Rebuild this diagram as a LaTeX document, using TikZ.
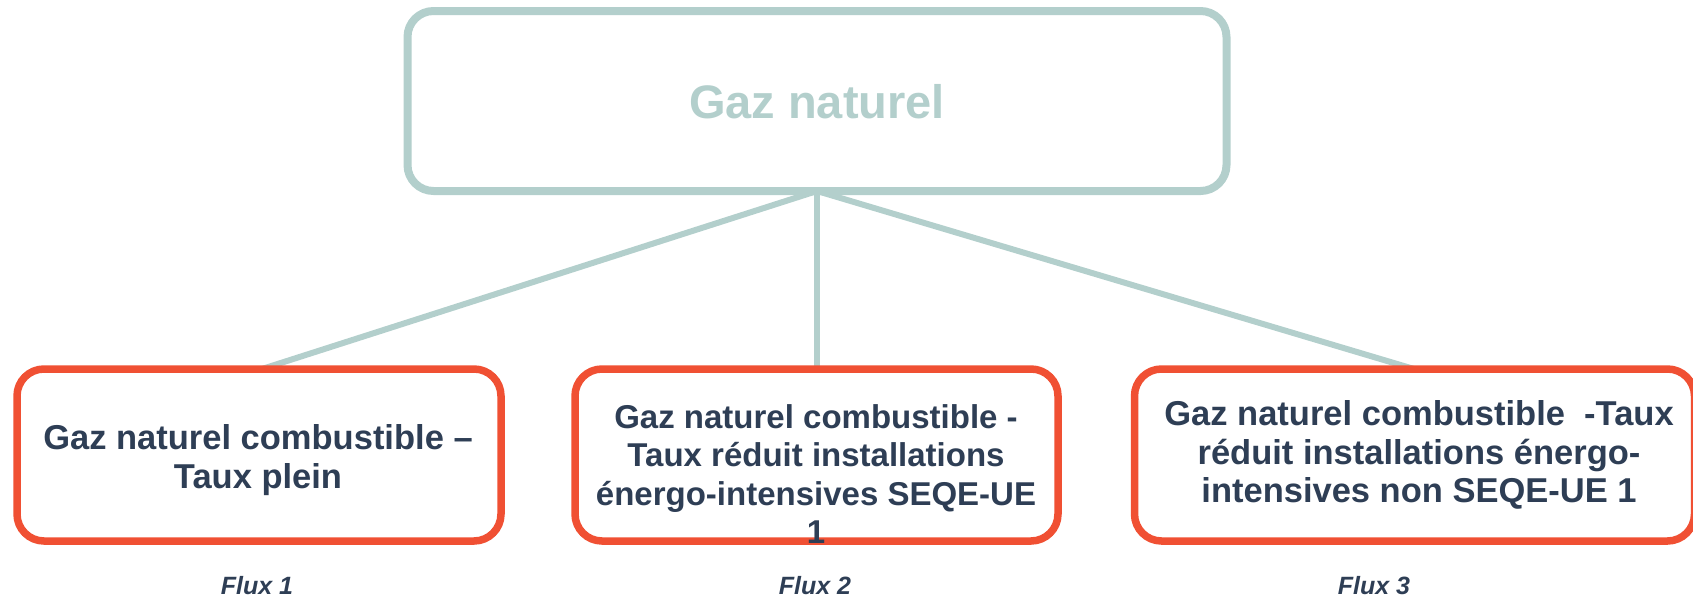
\documentclass[tikz,border=0pt]{standalone}
\usepackage{fontspec}
\setmainfont{Liberation Sans}
\definecolor{teal}{HTML}{B3CFCC}
\definecolor{redline}{HTML}{F05033}
\definecolor{navy}{HTML}{2E3E55}
\begin{document}
\begin{tikzpicture}[x=1pt,y=-1pt,
  topbox/.style={draw=teal,line width=8pt,rounded corners=26pt,fill=white,inner sep=0pt},
  flowbox/.style={draw=redline,line width=7.5pt,rounded corners=27pt,fill=white,inner sep=0pt,minimum height=172pt},
  conn/.style={draw=teal,line width=6pt},
  boxtext/.style={text=navy,font=\fontsize{34.5}{38.5}\selectfont\bfseries,align=center,inner sep=0pt},
  fluxtext/.style={text=navy,font=\fontsize{25}{30}\selectfont\bfseries\itshape,inner sep=0pt}]
\useasboundingbox (0,0) rectangle (1693,600);
\clip (0,0) rectangle (1693,600);
% connectors
\coordinate (c1) at (262,369);
\coordinate (c2) at (817,369);
\coordinate (c3) at (1414,369);
\coordinate (j) at (817,191);
\draw[conn] (j) -- (c1);
\draw[conn] (j) -- (c2);
\draw[conn] (j) -- (c3);
% top box
\node[topbox,minimum width=819pt,minimum height=180pt] (top) at (817,101) {};
\node[text=teal,font=\fontsize{47}{52}\selectfont\bfseries,inner sep=0pt] (toptext) at (817,102) {Gaz naturel};
% flow boxes
\node[flowbox,minimum width=484pt] (b1) at (259,455) {};
\node[flowbox,minimum width=483pt] (b2) at (816.5,455) {};
\node[flowbox,minimum width=560pt] (b3) at (1414.5,455) {};
\node[boxtext] (t1) at (258,460) {Gaz naturel combustible –\\Taux plein};
\node[boxtext,font=\fontsize{33}{38.3}\selectfont\bfseries] (t2) at (816,474) {Gaz naturel combustible -\\Taux réduit installations\\énergo-intensives SEQE-UE\\1};
\node[boxtext] (t3) at (1419,455) {Gaz naturel combustible\ \ -Taux\\réduit installations énergo-\\intensives non SEQE-UE 1};
% flux labels
\node[fluxtext] (f1) at (257,586) {Flux 1};
\node[fluxtext] (f2) at (815,586) {Flux 2};
\node[fluxtext] (f3) at (1374,586) {Flux 3};
\end{tikzpicture}
\end{document}
